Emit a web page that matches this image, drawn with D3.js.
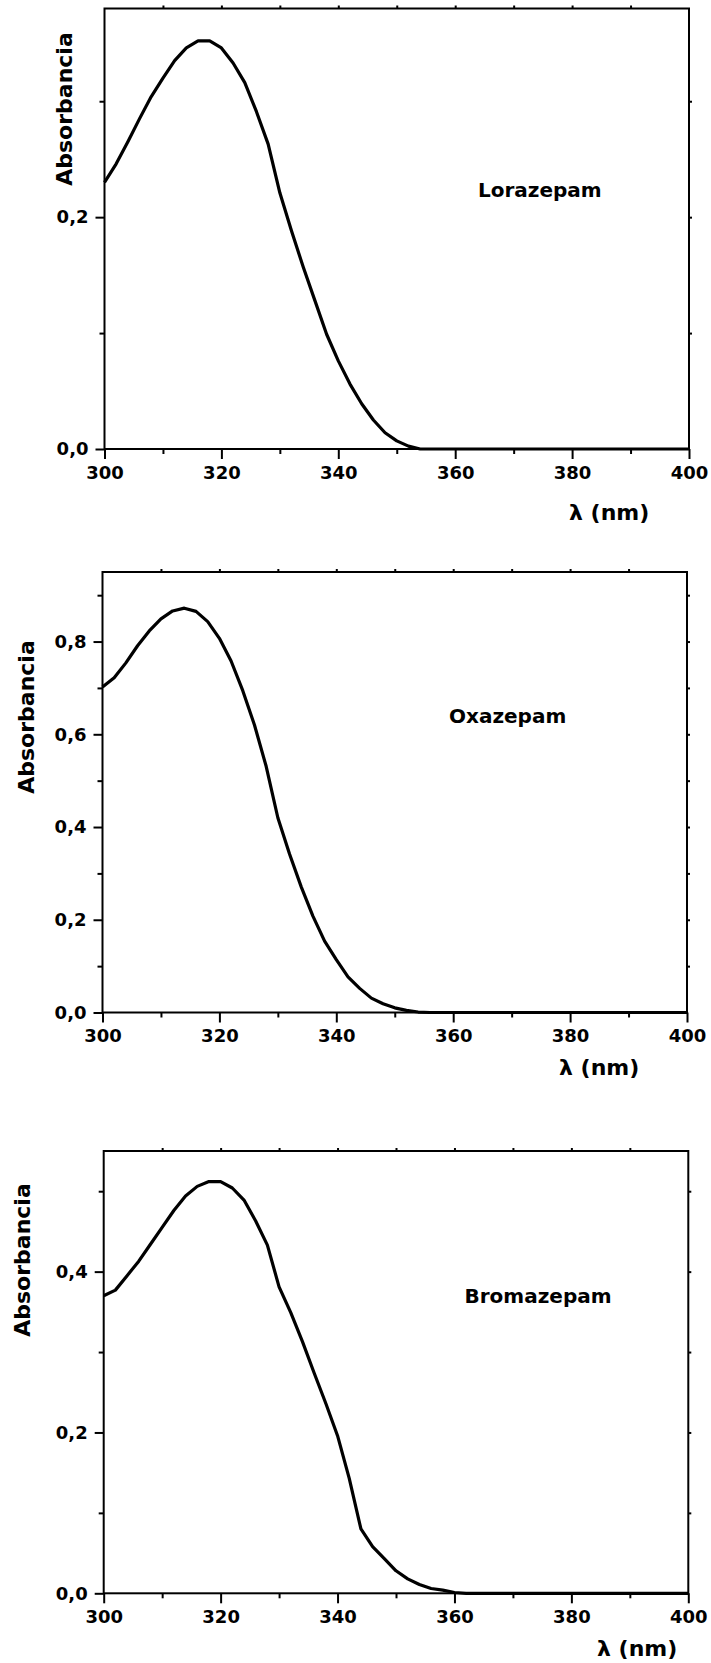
<!DOCTYPE html>
<html>
<head>
<meta charset="utf-8">
<script src="https://cdn.jsdelivr.net/npm/d3@7"></script>
<style>
  html, body { margin: 0; padding: 0; background: #fff; }
  svg { display: block; }
  text { font-family: "DejaVu Sans", sans-serif; font-weight: bold; fill: #000; }
</style>
</head>
<body>
<svg id="chart" width="711" height="1663"></svg>
<script>
// Wavelength grid (nm) shared by the three UV spectra
const wavelengths = [300, 302, 304, 306, 308, 310, 312, 314, 316, 318, 320, 322, 324, 326, 328, 330,
  332, 334, 336, 338, 340, 342, 344, 346, 348, 350, 352, 354, 356, 358, 360, 362, 364, 366, 368, 370,
  372, 374, 376, 378, 380, 382, 384, 386, 388, 390, 392, 394, 396, 398, 400];

// Absorbance values for each compound
const lorazepam = [0.230, 0.246, 0.265, 0.285, 0.304, 0.320, 0.335, 0.346, 0.352, 0.352, 0.346, 0.333,
  0.316, 0.291, 0.263, 0.221, 0.188, 0.157, 0.128, 0.099, 0.076, 0.056, 0.039, 0.025, 0.014, 0.007,
  0.0025, 0, 0, 0, 0, 0, 0, 0, 0, 0, 0, 0, 0, 0, 0, 0, 0, 0, 0, 0, 0, 0, 0, 0, 0];

const oxazepam = [0.702, 0.722, 0.754, 0.791, 0.823, 0.849, 0.866, 0.872, 0.865, 0.843, 0.807, 0.758,
  0.694, 0.620, 0.531, 0.420, 0.342, 0.271, 0.208, 0.154, 0.114, 0.077, 0.052, 0.031, 0.019, 0.010,
  0.0045, 0.001, 0, 0, 0, 0, 0, 0, 0, 0, 0, 0, 0, 0, 0, 0, 0, 0, 0, 0, 0, 0, 0, 0, 0];

const bromazepam = [0.370, 0.377, 0.395, 0.413, 0.434, 0.455, 0.476, 0.494, 0.506, 0.512, 0.512, 0.504,
  0.489, 0.463, 0.433, 0.381, 0.349, 0.313, 0.274, 0.236, 0.196, 0.143, 0.080, 0.058, 0.043, 0.028,
  0.018, 0.011, 0.006, 0.004, 0.001, 0, 0, 0, 0, 0, 0, 0, 0, 0, 0, 0, 0, 0, 0, 0, 0, 0, 0, 0, 0];

const compoundNames = ["Lorazepam", "Oxazepam", "Bromazepam"];

// Tick values
const xMajorTicks = [300, 320, 340, 360, 380, 400];
const xMinorTicks = [310, 330, 350, 370, 390];
const xAllTicks = [310, 320, 330, 340, 350, 360, 370, 380, 390];
const yMajorTicks = [[0, 0.2], [0, 0.2, 0.4, 0.6, 0.8], [0, 0.2, 0.4]];
const yMinorTicks = [[0.1, 0.3], [0.1, 0.3, 0.5, 0.7, 0.9], [0.1, 0.3, 0.5]];
const yMaxValues = [0.38, 0.95, 0.55];

const xTitle = "λ (nm)";
const yTitle = "Absorbancia";

// Panel layout (pixel boxes and label anchors)
const panels = [
  { left: 104.5, right: 689, top: 8.5, bottom: 449,
    nameX: 478, nameY: 197, xtX: 569, xtY: 520, ytX: 72, ytY: 109 },
  { left: 102.5, right: 687, top: 572, bottom: 1012.5,
    nameX: 449, nameY: 722.5, xtX: 559, xtY: 1075, ytX: 34, ytY: 717 },
  { left: 103.7, right: 688.3, top: 1151, bottom: 1593.3,
    nameX: 464.5, nameY: 1302.5, xtX: 597, xtY: 1656, ytX: 30, ytY: 1260 }
];

const series = [lorazepam, oxazepam, bromazepam];

const comma = d3.formatLocale({ decimal: ",", thousands: ".", grouping: [3], currency: ["", ""] }).format(".1f");

const svg = d3.select("#chart");

panels.forEach((p, i) => {
  const g = svg.append("g");
  const x = d3.scaleLinear().domain([300, 400]).range([p.left, p.right]);
  const y = d3.scaleLinear().domain([0, yMaxValues[i]]).range([p.bottom, p.top]);

  const styleAxis = sel => {
    sel.select(".domain").remove();
    sel.selectAll(".tick line").attr("stroke", "#000").attr("stroke-width", 2);
    sel.selectAll(".tick text")
      .style("font-family", "'DejaVu Sans', sans-serif")
      .style("font-weight", "bold")
      .style("font-size", "18px")
      .attr("fill", "#000");
  };

  // Bottom axis: labelled major ticks, plus shorter minor ticks
  g.append("g").attr("transform", `translate(0,${p.bottom})`)
    .call(d3.axisBottom(x).tickValues(xMajorTicks).tickSize(10).tickPadding(7).tickFormat(d3.format("d")))
    .call(styleAxis);
  g.append("g").attr("transform", `translate(0,${p.bottom})`)
    .call(d3.axisBottom(x).tickValues(xMinorTicks).tickSize(5).tickFormat(""))
    .call(styleAxis);

  // Left axis
  g.append("g").attr("transform", `translate(${p.left},0)`)
    .call(d3.axisLeft(y).tickValues(yMajorTicks[i]).tickSize(9).tickPadding(7).tickFormat(comma))
    .call(styleAxis);
  g.append("g").attr("transform", `translate(${p.left},0)`)
    .call(d3.axisLeft(y).tickValues(yMinorTicks[i]).tickSize(5).tickFormat(""))
    .call(styleAxis);

  // Mirror ticks on top and right edges
  g.append("g").attr("transform", `translate(0,${p.top})`)
    .call(d3.axisTop(x).tickValues(xAllTicks).tickSize(3).tickFormat(""))
    .call(styleAxis);
  g.append("g").attr("transform", `translate(${p.right},0)`)
    .call(d3.axisRight(y).tickValues(yMajorTicks[i].concat(yMinorTicks[i]).filter(v => v > 0)).tickSize(3).tickFormat(""))
    .call(styleAxis);

  // Frame
  g.append("rect")
    .attr("x", p.left).attr("y", p.top)
    .attr("width", p.right - p.left).attr("height", p.bottom - p.top)
    .attr("fill", "none").attr("stroke", "#000").attr("stroke-width", 2);

  // Spectrum
  const line = d3.line()
    .x((d, k) => x(wavelengths[k]))
    .y(d => y(d));
  g.append("path")
    .datum(series[i])
    .attr("d", line)
    .attr("fill", "none")
    .attr("stroke", "#000")
    .attr("stroke-width", 3.2)
    .attr("stroke-linejoin", "round");

  // Compound name
  g.append("text")
    .attr("x", p.nameX).attr("y", p.nameY)
    .style("font-size", "20px")
    .text(compoundNames[i]);

  // Axis titles
  g.append("text")
    .attr("x", p.xtX).attr("y", p.xtY)
    .style("font-size", "22px")
    .text(xTitle);
  g.append("text")
    .attr("transform", `translate(${p.ytX},${p.ytY}) rotate(-90)`)
    .attr("text-anchor", "middle")
    .style("font-size", "22px")
    .text(yTitle);
});
</script>
</body>
</html>
